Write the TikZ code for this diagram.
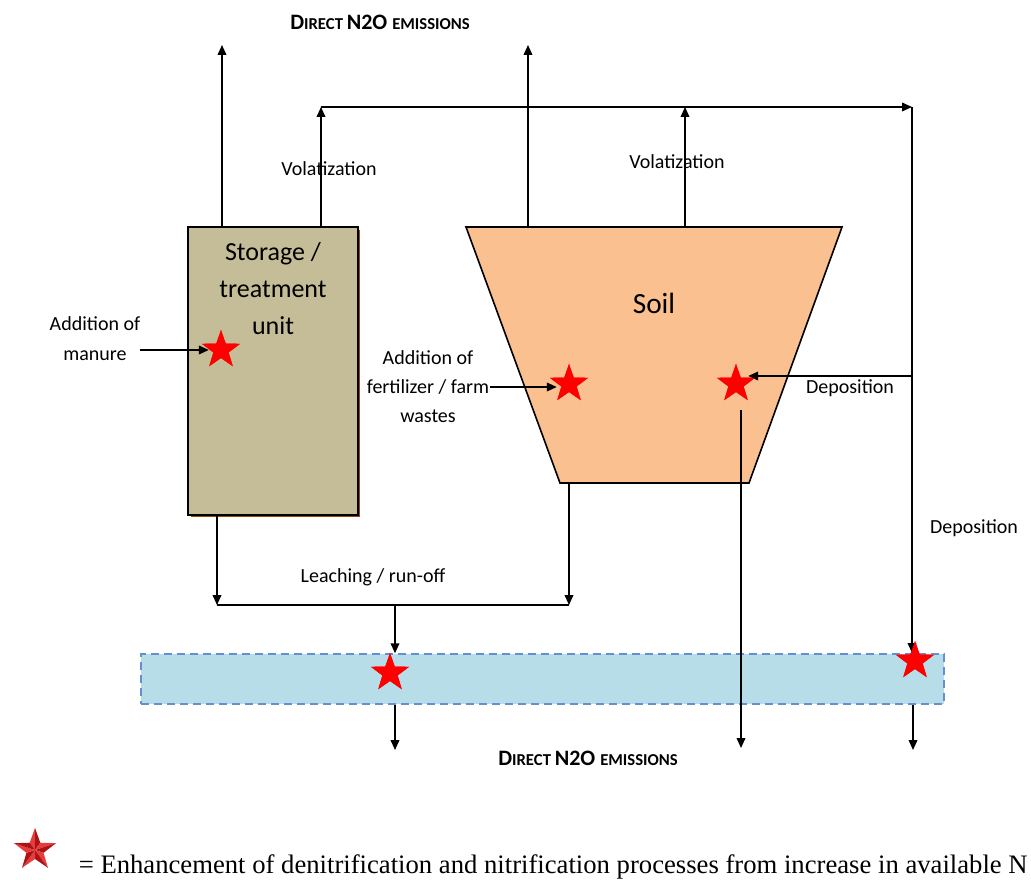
\documentclass[tikz,border=0pt]{standalone}
\usepackage{fontspec}
\setmainfont{Carlito}
\newfontfamily\legendfont{Liberation Serif}
\usetikzlibrary{arrows.meta,shapes.geometric}

\definecolor{storetan}{RGB}{196,189,151}
\definecolor{storeshadow}{RGB}{152,72,7}
\definecolor{soilpeach}{RGB}{250,192,144}
\definecolor{waterblue}{RGB}{183,221,232}
\definecolor{waterline}{RGB}{100,145,205}
\definecolor{starlight}{RGB}{232,60,60}
\definecolor{stardark}{RGB}{170,20,20}

\newcommand{\emistitle}{\bfseries\fontsize{16.5}{18}\selectfont D\fontsize{12.5}{14}\selectfont IRECT \fontsize{16.5}{18}\selectfont N2O \fontsize{12.5}{14}\selectfont EMISSIONS}

\tikzset{every picture/.style={line width=1.2pt}}
\tikzset{
  flow/.style={-{Triangle[length=7.5pt,width=6.5pt]}},
  redstar/.style={star, star points=5, star point ratio=2.5, fill=red, draw=none, minimum size=30pt, inner sep=0pt},
  lbl/.style={inner sep=0.75pt, align=center, font=\fontsize{15}{22.5}\selectfont}
}

\begin{document}
\begin{tikzpicture}[x=0.75pt,y=0.75pt,yscale=-1,xscale=1]
	\useasboundingbox (0,0) rectangle (1031,880);

	%Shape: Storage box shadow
	\fill [storeshadow] (191,230) rectangle (360,517);
	%Shape: Storage box
	\node (store) [draw, fill=storetan, minimum width=127.5pt, minimum height=216pt, inner sep=0pt] at (273,371) {};
	%Shape: Soil trapezium
	\draw [fill=soilpeach] (466,227) -- (842,227) -- (749,483) -- (560,483) -- cycle;
	%Shape: Water band
	\node (water) [draw=waterline, line width=1.1pt, dash pattern={on 6pt off 3.75pt}, fill=waterblue, minimum width=602.25pt, minimum height=37.5pt, inner sep=0pt] at (542.5,679) {};

	%Points of the flows
	\coordinate (emStore) at (222,45);
	\coordinate (volStore) at (321,107);
	\coordinate (emSoil) at (528,45);
	\coordinate (volSoil) at (685,107);
	\coordinate (depCorner) at (912,107);
	\coordinate (depBranch) at (912,376);
	\coordinate (depTip) at (912,653);
	\coordinate (manureIn) at (140,350);
	\coordinate (fertIn) at (490,387);
	\coordinate (soilBase) at (569,483);
	\coordinate (leachL) at (217,605);
	\coordinate (leachR) at (569,605);
	\coordinate (leachMid) at (395,605);
	\coordinate (soilOut) at (741,410);
	\coordinate (soilEm) at (741,748);
	\coordinate (waterEmA) at (395,750);
	\coordinate (waterEmB) at (913,750);

	%Stars (placed first, drawn again on top)
	\path (221,350) node (stStore) [redstar] {};
	\path (569,384) node (stFert) [redstar] {};
	\path (736,384) node (stDep) [redstar] {};
	\path (390,673) node (stLeach) [redstar] {};
	\path (915,661) node (stWater) [redstar] {};

	%Volatization and emission arrows
	\draw [flow] (store.north -| emStore) -- (emStore);
	\draw [flow] (store.north -| volStore) -- (volStore);
	\draw [flow] (store.north -| emSoil) -- (emSoil);
	\draw [flow] (store.north -| volSoil) -- (volSoil);
	\draw [flow] (volStore) -- (depCorner);
	\draw [flow] (depCorner) -- (depTip);
	\draw [flow] (depBranch) -- (depBranch -| stDep.east);
	%Additions
	\draw [flow] (manureIn) -- (manureIn -| stStore.west);
	\draw [flow] (fertIn) -- (fertIn -| stFert.west);
	%Leaching / run-off
	\draw [flow] (store.south -| leachL) -- (leachL);
	\draw [flow] (soilBase) -- (leachR);
	\draw (leachL) -- (leachR);
	\draw [flow] (leachMid) -- (leachMid |- water.north);
	\draw [flow] (leachMid |- water.south) -- (waterEmA);
	\draw [flow] (waterEmB |- water.south) -- (waterEmB);
	\draw [flow] (soilOut) -- (soilEm);

	%Stars on top
	\foreach \s in {stStore,stFert,stDep,stLeach,stWater}
	  \node [redstar] at (\s) {};

	%Legend star
	\coordinate (legendStar) at (35,850);
	\begin{scope}[shift={(legendStar)}]
	  \foreach \i in {0,...,4} {
	    \fill [starlight] (0,0) -- ({-126+72*\i}:9) -- ({-90+72*\i}:22) -- cycle;
	    \fill [stardark] (0,0) -- ({-90+72*\i}:22) -- ({-54+72*\i}:9) -- cycle;
	  }
	\end{scope}

	% Text Node
	\node (storeTxt) [align=center, font=\fontsize{19.5}{27.75}\selectfont] at (273,289) {Storage /\\treatment\\unit};
	% Text Node
	\node (soilTxt) [font=\fontsize{22}{26}\selectfont] at (654,303) {Soil};
	% Text Node
	\node (volLblA) [lbl] at (329,169) {Volatization};
	% Text Node
	\node (volLblB) [lbl] at (677,162) {Volatization};
	% Text Node
	\node (manureLbl) [lbl] at (95,339) {Addition of\\manure};
	% Text Node
	\node (fertLbl) [lbl, font=\fontsize{15}{21.75}\selectfont] at (428,387) {Addition of\\fertilizer / farm\\wastes};
	% Text Node
	\node (depLblA) [lbl] at (850,388) {Deposition};
	% Text Node
	\node (depLblB) [lbl] at (974,528) {Deposition};
	% Text Node
	\node (leachLbl) [lbl] at (373,577) {Leaching / run-off};
	% Text Node
	\node (emisTop) [anchor=base, inner sep=0pt] at (380,30) {\emistitle};
	% Text Node
	\node (emisBot) [anchor=base, inner sep=0pt] at (588,765) {\emistitle};
	% Text Node
	\node (legendTxt) [anchor=base west, inner sep=0pt, font=\legendfont\fontsize{20}{24}\selectfont] at (78,873) {= Enhancement of denitrification and nitrification processes from increase in available N};
\end{tikzpicture}
\end{document}
